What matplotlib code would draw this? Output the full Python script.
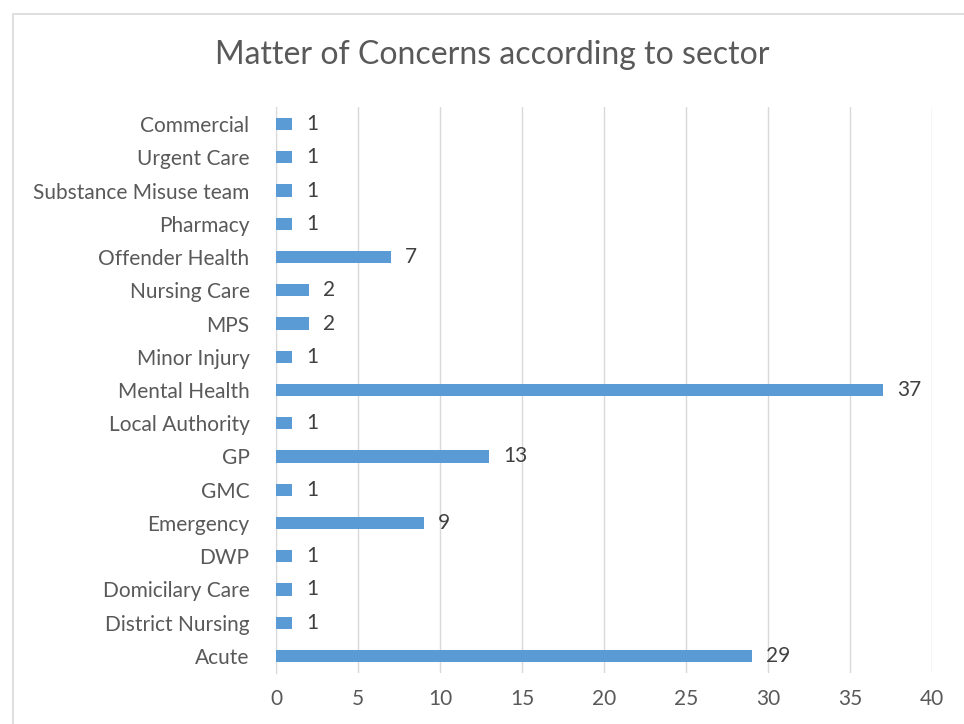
import matplotlib
matplotlib.use('Agg')
import matplotlib.pyplot as plt
from matplotlib.patches import Rectangle

# categories from top to bottom
sectors = ['Commercial', 'Urgent Care', 'Substance Misuse team', 'Pharmacy',
           'Offender Health', 'Nursing Care', 'MPS', 'Minor Injury',
           'Mental Health', 'Local Authority', 'GP', 'GMC', 'Emergency',
           'DWP', 'Domicilary Care', 'District Nursing', 'Acute']
counts = [1, 1, 1, 1, 7, 2, 2, 1, 37, 1, 13, 1, 9, 1, 1, 1, 29]
xticks = [0, 5, 10, 15, 20, 25, 30, 35, 40]

plt.rcParams['font.family'] = ['Lato', 'DejaVu Sans']

fig = plt.figure(figsize=(9.64, 7.24), dpi=100)
# chart border
fig.patches.append(Rectangle((13/964, -0.1), 1.2, 1 - 14/724 + 0.1, transform=fig.transFigure,
                             fill=False, edgecolor='#d9d9d9', linewidth=1.2))

ax = fig.add_axes([276/964, 1 - 672.6/724, (932 - 276)/964, (672.6 - 107.4)/724])
y = list(range(len(sectors)))[::-1]
ax.barh(y, counts, height=0.37, color='#5b9bd5', zorder=3)
for yi, v in zip(y, counts):
    ax.text(v + 0.85, yi, str(v), va='center', ha='left', fontsize=15, color='#404040')

ax.set_xlim(0, 40)
ax.set_ylim(-0.5, len(sectors) - 0.5)
ax.set_xticks(xticks)
ax.set_yticks(y)
ax.set_yticklabels(sectors)
ax.tick_params(axis='both', length=0, labelsize=15, colors='#595959')
ax.tick_params(axis='x', pad=12)
ax.tick_params(axis='y', pad=19)
ax.grid(axis='x', color='#d9d9d9', linewidth=1, zorder=0)
for s in ['top', 'right', 'bottom']:
    ax.spines[s].set_visible(False)
ax.spines['left'].set_color('#d9d9d9')

fig.text(492/964, 1 - 55/724, 'Matter of Concerns according to sector', ha='center', va='center',
         fontsize=23, color='#595959')

plt.savefig('out.png', dpi=100)
